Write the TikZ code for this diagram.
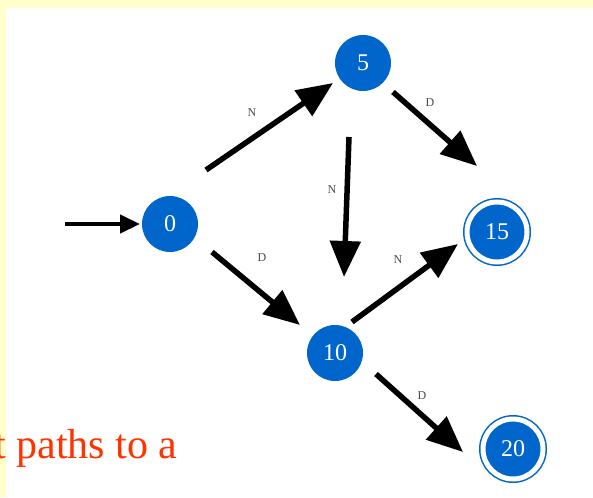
\documentclass[tikz,border=0pt]{standalone}
\usepackage{fontspec}
\setmainfont{Liberation Serif}
\usetikzlibrary{arrows.meta}
\definecolor{stateblue}{HTML}{0066CC}
\definecolor{pageyellow}{HTML}{FFFFCC}
\definecolor{hintred}{HTML}{FF3300}
\tikzset{
  state/.style={circle, fill=stateblue, text=white, minimum size=56pt, inner sep=0pt,
    outer sep=0pt, font=\fontsize{24}{24}\selectfont},
  accept/.style={state, minimum size=60pt, draw=stateblue, double=white,
    double distance=5pt, line width=1.5pt},
  move/.style={line width=5.5pt, -{Triangle[length=36pt, width=30pt]}},
  lbl/.style={text=black!70, font=\fontsize{12}{12}\selectfont, inner sep=0pt}
}
\begin{document}
\begin{tikzpicture}[x=1pt, y=-1pt]
  \useasboundingbox (0,0) rectangle (593,497);
  \fill[pageyellow] (0,0) rectangle (593,497);
  \fill[white] (6,8) rectangle (593,497);
  % states of the coin machine
  \node[state] (n0) at (170,224) {0};
  \node[state] (n5) at (363,63) {5};
  \node[state] (n10) at (335,353) {10};
  \node[accept] (n15) at (497,232) {15};
  \node[accept] (n20) at (513,449) {20};
  \coordinate (init) at (65,224);
  \draw[line width=4.5pt, -{Triangle[length=20pt, width=18pt]}, shorten >=2pt] (init) -- (n0.west);
  % offsets of both arrow ends from the state centres
  \foreach \a/\sx/\sy/\b/\tx/\ty in {
      n0/36/-54/n5/-30/20,
      n5/30/29/n15/-20/-66,
      n5/-14/74/n10/9/-76,
      n0/42/28/n10/-35/-28,
      n10/17/-31/n15/-39/12,
      n10/41/21/n20/-50/3} {
    \draw[move] ([shift={(\sx,\sy)}]\a.center) -- ([shift={(\tx,\ty)}]\b.center);
  }
  \foreach \x/\y/\t/\name in {252/113/N/l1, 430/103/D/l2, 332/190/N/l3,
      262/258/D/l4, 398/260/N/l5, 422/396/D/l6}
    \node[lbl] (\name) at (\x,\y) {\t};
  \node[text=hintred, font=\fontsize{42}{42}\selectfont, inner sep=0pt, anchor=base west]
    (hint) at (-6,458) {t paths to a};
\end{tikzpicture}
\end{document}
